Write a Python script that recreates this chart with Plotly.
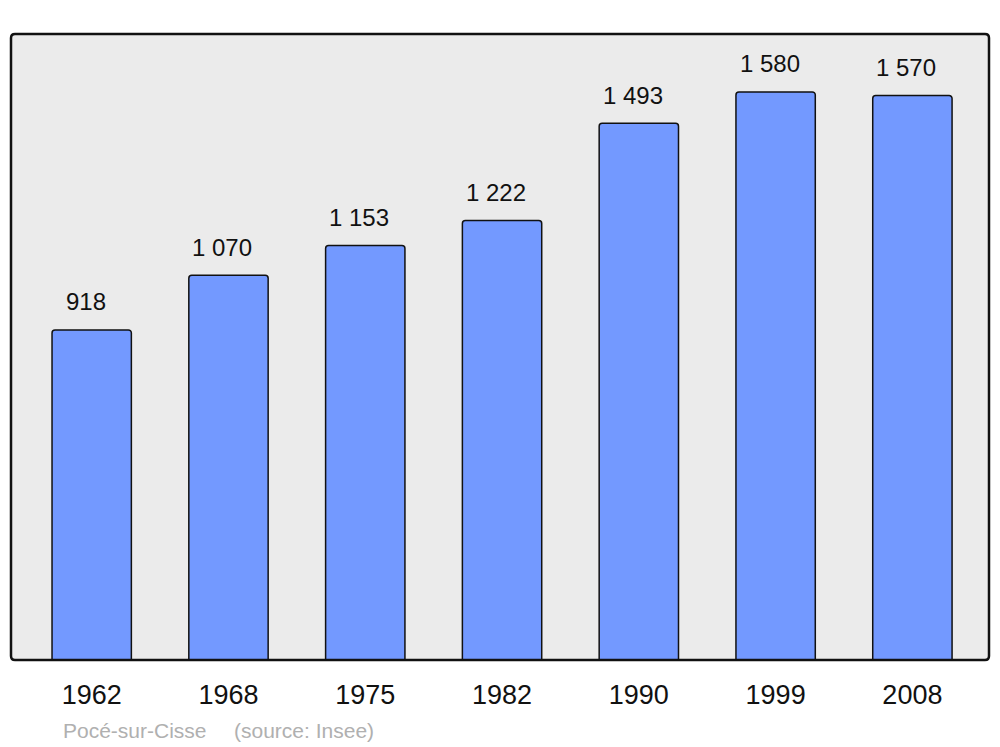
import plotly.graph_objects as go

years = ["1962", "1968", "1975", "1982", "1990", "1999", "2008"]
population = [918, 1070, 1153, 1222, 1493, 1580, 1570]
value_labels = ["918", "1 070", "1 153", "1 222", "1 493", "1 580", "1 570"]
footer_place = "Pocé-sur-Cisse"
footer_source = "(source: Insee)"

W, H = 1000, 747
ml, mr, mt = 11, 11, 34
ph = 660 - 34
mb = H - mt - ph
pw = W - ml - mr
FONT = "Liberation Sans, Arial, sans-serif"

def px_x(page_x):
    return (page_x - ml) / pw

def px_y(page_y):
    return (mt + ph - page_y) / ph

fig = go.Figure()
fig.add_trace(go.Bar(
    x=list(range(len(years))), y=population, width=0.58,
    marker=dict(color="#7399ff", line=dict(color="#111111", width=1.5)),
    hoverinfo="skip",
))

for i, (v, t) in enumerate(zip(population, value_labels)):
    fig.add_annotation(x=i, y=v, text=t, showarrow=False, xref="x", yref="y",
                       yanchor="middle", yshift=28, xshift=-6,
                       font=dict(size=24, color="#111111", family=FONT))

for txt, xpix in [(footer_place, 61), (footer_source, 232)]:
    fig.add_annotation(x=px_x(xpix), y=px_y(730), xref="paper", yref="paper",
                       text=txt, showarrow=False, xanchor="left", yanchor="middle",
                       font=dict(size=21, color="#b0b0b0", family=FONT))

rx, ry = 4 / pw, 4 / ph
path = (f"M {rx},0 L {1-rx},0 Q 1,0 1,{ry} L 1,{1-ry} Q 1,1 {1-rx},1 "
        f"L {rx},1 Q 0,1 0,{1-ry} L 0,{ry} Q 0,0 {rx},0 Z")
fig.add_shape(type="path", path=path, xref="paper", yref="paper",
              line=dict(color="#111111", width=2.5), layer="above")

fig.update_layout(
    width=W, height=H, margin=dict(l=ml, r=mr, t=mt, b=mb),
    paper_bgcolor="white", plot_bgcolor="#ebebeb",
    showlegend=False, barcornerradius=3,
    font=dict(family=FONT, color="#111111"),
    xaxis=dict(range=[-0.59, 6.56], tickvals=list(range(len(years))), ticktext=years,
               tickfont=dict(size=27, color="#111111"), showgrid=False, zeroline=False,
               showline=False, ticks="", ticklabelstandoff=16),
    yaxis=dict(range=[0, 1741], showgrid=False, zeroline=False, showticklabels=False,
               showline=False, ticks=""),
)

fig.write_html("out.html", config={"displayModeBar": False, "staticPlot": True},
               post_script="document.body.style.margin='0';document.body.style.overflow='hidden';")
